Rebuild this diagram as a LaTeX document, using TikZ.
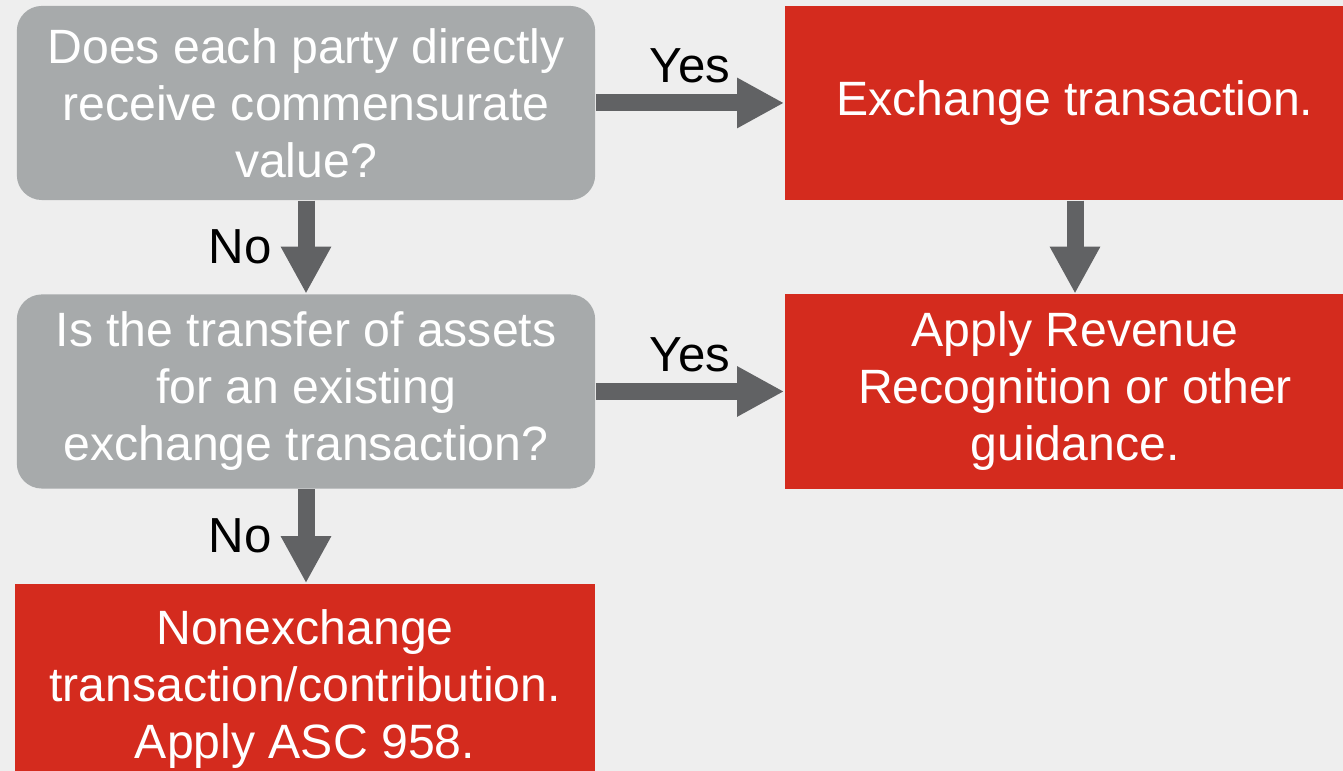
\documentclass[tikz,border=0pt]{standalone}
\usepackage{fontspec}
\setmainfont{Liberation Sans}
\usepackage{tikz}
\usetikzlibrary{arrows.meta}

\definecolor{bgcol}{HTML}{EEEEEE}
\definecolor{askcol}{HTML}{A7AAAB}
\definecolor{redcol}{HTML}{D42B1E}
\definecolor{arrcol}{HTML}{616264}

\begin{document}
\begin{tikzpicture}[x=0.01cm,y=0.01cm,
    askbox/.style={rectangle, rounded corners=0.25cm, fill=askcol, text=white,
        minimum width=5.78cm, minimum height=1.94cm, inner sep=0pt,
        align=center, font=\fontsize{13.7pt}{16.2pt}\selectfont},
    endbox/.style={rectangle, fill=redcol, text=white, inner sep=0pt,
        align=center, font=\fontsize{13.7pt}{16.2pt}\selectfont},
    flow/.style={draw=arrcol, line width=0.17cm,
        -{Triangle[length=0.47cm,width=0.47cm,fill=arrcol]}},
    answer/.style={inner sep=0pt, font=\fontsize{14pt}{16.2pt}\selectfont}]

    % draws background
    \fill[bgcol] (0,0) rectangle (1343,771);
    \useasboundingbox (0,0) rectangle (1343,771);

    % draws boxes
    \node[askbox] (direct) at (306,668) {Does each party directly\\receive commensurate\\value?};
    \node[askbox] (existing) at (306,379.5) {Is the transfer of assets\\for an existing\\exchange transaction?};
    \node[endbox, minimum width=5.80cm, minimum height=1.94cm] (exch) at (1075,668) {Exchange transaction.};
    \node[endbox, minimum width=5.80cm, minimum height=1.94cm] (revrec) at (1075,379.5) {Apply Revenue\\Recognition or other\\guidance.};
    \node[endbox, minimum width=5.80cm, minimum height=2.10cm] (nonexch) at (305,82) {Nonexchange\\transaction/contribution.\\Apply ASC 958.};

    % draws arrows
    \draw[flow] (direct.east |- exch.west) -- node[answer, above=0.11cm] {Yes} (exch.west);
    \draw[flow] (existing.east |- revrec.west) -- node[answer, above=0.11cm] {Yes} (revrec.west);
    \draw[flow] (direct.south) -- node[answer, left=0.26cm] {No} (existing.north);
    \draw[flow] (existing.south) -- node[answer, left=0.26cm] {No} (existing.south |- nonexch.north);
    \draw[flow] (exch.south) -- (revrec.north);
\end{tikzpicture}
\end{document}
